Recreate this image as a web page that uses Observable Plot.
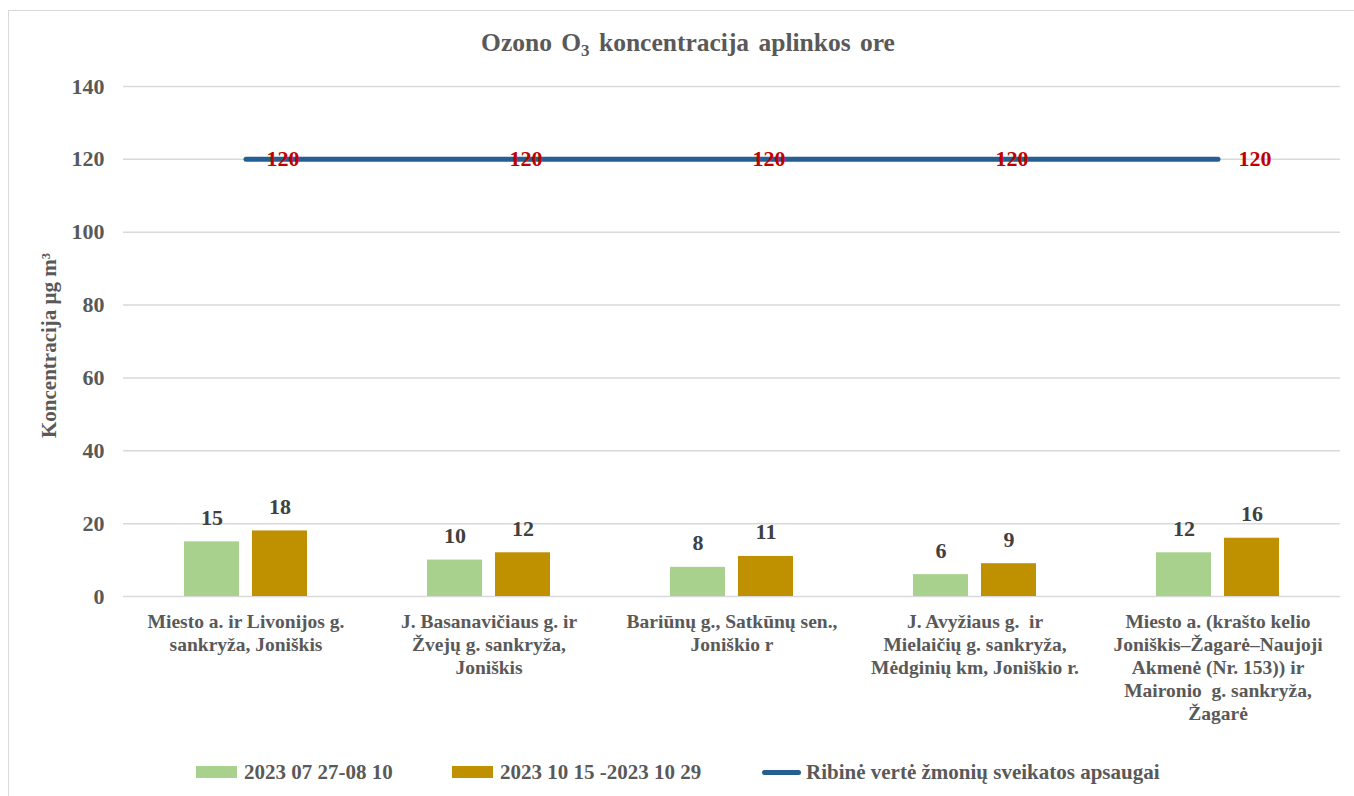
<!DOCTYPE html>
<html>
<head>
<meta charset="utf-8">
<script src="https://cdn.jsdelivr.net/npm/d3@7"></script>
<script src="https://cdn.jsdelivr.net/npm/@observablehq/plot@0.6"></script>
<style>
  html, body { margin: 0; padding: 0; background: #fff; }
  #wrap { position: relative; width: 1354px; height: 796px; overflow: hidden; font-family: "Liberation Serif", "DejaVu Serif", serif; color: #595959; }
  #frame { position: absolute; left: 8px; top: 10px; width: 1400px; height: 820px; border: 1.5px solid #d9d9d9; box-sizing: border-box; }
  #title { position: absolute; top: 30px; left: 688px; transform: translateX(-50%); font-size: 25.5px; line-height: 26px; font-weight: bold; white-space: nowrap; word-spacing: 3px; }
  #title sub { font-size: 17px; vertical-align: -5px; line-height: 0; }
  #chart { position: absolute; left: 0; top: 0; }
  #chart svg, #chart svg text { font-family: "Liberation Serif", "DejaVu Serif", serif; }
  .leg { position: absolute; top: 761px; font-size: 21px; line-height: 22px; font-weight: bold; white-space: nowrap; }
  .sw { position: absolute; }
</style>
</head>
<body>
<div id="wrap">
  <div id="frame"></div>
  <div id="chart"></div>
  <div id="title">Ozono O<sub>3</sub> koncentracija aplinkos ore</div>
  <div id="legend"></div>
</div>
<script>
const sites = [
  "Miesto a. ir Livonijos g.\nsankryža, Joniškis",
  "J. Basanavičiaus g. ir\nŽvejų g. sankryža,\nJoniškis",
  "Bariūnų g., Satkūnų sen.,\nJoniškio r",
  "J. Avyžiaus g.  ir\nMielaičių g. sankryža,\nMėdginių km, Joniškio r.",
  "Miesto a. (krašto kelio\nJoniškis–Žagarė–Naujoji\nAkmenė (Nr. 153)) ir\nMaironio  g. sankryža,\nŽagarė"
];
const series1 = [15, 10, 8, 6, 12];
const series2 = [18, 12, 11, 9, 16];
const limitValues = [120, 120, 120, 120, 120];
const yTicks = [0, 20, 40, 60, 80, 100, 120, 140];
const seriesNames = ["2023 07 27-08 10", "2023 10 15 -2023 10 29", "Ribinė vertė žmonių sveikatos apsaugai"];
const yLabel = "Koncentracija μg m³";

const green = "#A9D18E", gold = "#BF9000", blue = "#255E91", red = "#C00000";
const font = "'Liberation Serif', 'DejaVu Serif', serif";

const d1 = sites.map((s, i) => ({site: s, v: series1[i]}));
const d2 = sites.map((s, i) => ({site: s, v: series2[i]}));
const dl = sites.map((s, i) => ({site: s, v: limitValues[i]}));

const chart = Plot.plot({
  width: 1354,
  height: 740,
  marginTop: 86,
  marginBottom: 144,
  marginLeft: 123,
  marginRight: 14,
  style: {fontFamily: font, color: "#595959", background: "transparent", overflow: "visible"},
  x: {domain: sites, padding: 0, axis: null},
  y: {domain: [0, 140], axis: null},
  marks: [
    Plot.ruleY(yTicks, {stroke: "#d9d9d9", strokeWidth: 1.5}),
    Plot.axisY({ticks: yTicks, tickSize: 0, tickPadding: 19, fontSize: 22, fontWeight: "bold", label: null, fill: "#595959"}),
    Plot.text([yLabel], {frameAnchor: "left", textAnchor: "middle", rotate: -90, dx: -74, dy: 4, fontSize: 21, fontWeight: "bold", fill: "#595959"}),
    Plot.barY(d1, {x: "site", y: "v", fill: green, insetLeft: 60, insetRight: 128}),
    Plot.barY(d2, {x: "site", y: "v", fill: gold, insetLeft: 128, insetRight: 60}),
    Plot.text(d1, {x: "site", y: "v", text: d => String(d.v), dx: -34, dy: -24, fontSize: 22, fontWeight: "bold", fill: "#404040"}),
    Plot.text(d2, {x: "site", y: "v", text: d => String(d.v), dx: 34, dy: -24, fontSize: 22, fontWeight: "bold", fill: "#404040"}),
    Plot.lineY(dl, {x: "site", y: "v", stroke: blue, strokeWidth: 5, strokeLinecap: "round"}),
    Plot.text(dl, {x: "site", y: "v", text: d => String(d.v), dx: 37, fontSize: 22, fontWeight: "bold", fill: red}),
    Plot.text(sites, {x: d => d, text: d => d, frameAnchor: "bottom", lineAnchor: "top", dy: 15, fontSize: 19.5, lineHeight: 1.18, fontWeight: "bold", fill: "#595959"})
  ]
});
document.getElementById("chart").appendChild(chart);

// legend
const leg = document.getElementById("legend");
const items = [
  {name: seriesNames[0], kind: "box", color: green, sx: 196, tx: 244},
  {name: seriesNames[1], kind: "box", color: gold, sx: 452, tx: 500},
  {name: seriesNames[2], kind: "line", color: blue, sx: 762, tx: 806}
];
for (const it of items) {
  const sw = document.createElement("div");
  sw.className = "sw";
  if (it.kind === "box") {
    Object.assign(sw.style, {left: it.sx + "px", top: "766px", width: "41px", height: "12px", background: it.color});
  } else {
    Object.assign(sw.style, {left: it.sx + "px", top: "770px", width: "39px", height: "5px", background: it.color, borderRadius: "3px"});
  }
  leg.appendChild(sw);
  const t = document.createElement("div");
  t.className = "leg";
  t.style.left = it.tx + "px";
  t.textContent = it.name;
  leg.appendChild(t);
}
</script>
</body>
</html>
